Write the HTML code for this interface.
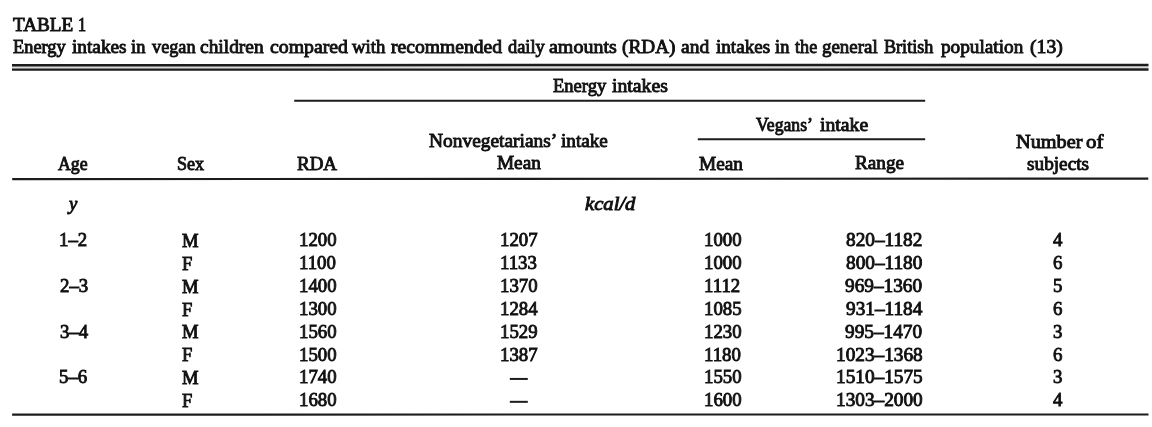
<!DOCTYPE html>
<html><head><meta charset="utf-8"><style>
html,body{margin:0;padding:0;background:#fff;}
body{width:1152px;height:427px;position:relative;overflow:hidden;filter:blur(0.45px);font-family:"Liberation Serif",serif;font-size:18px;line-height:18px;color:#111;}
.t{position:absolute;white-space:nowrap;transform-origin:0 0;-webkit-text-stroke:0.85px #111;}
.i{font-style:italic;}
.h{position:absolute;background:#151515;}
</style></head><body>
<svg width="1152" height="427" style="position:absolute;left:0;top:0">
<line x1="12" y1="67.3" x2="1148.5" y2="67.1" stroke="#dadada" stroke-width="3"/>
<line x1="12" y1="65.2" x2="1148.5" y2="64.95" stroke="#1c1c1c" stroke-width="2.5"/>
<line x1="12" y1="69.7" x2="1148.5" y2="69.5" stroke="#1c1c1c" stroke-width="2.3"/>
<line x1="294.2" y1="100.8" x2="925.2" y2="100.7" stroke="#1c1c1c" stroke-width="1.9"/>
<line x1="697.8" y1="139.3" x2="925.2" y2="139.2" stroke="#1c1c1c" stroke-width="1.9"/>
<line x1="12.2" y1="179.1" x2="1148.3" y2="178.6" stroke="#1c1c1c" stroke-width="2.1"/>
<line x1="12.1" y1="414.6" x2="1148.5" y2="414.5" stroke="#1c1c1c" stroke-width="2.1"/>
<line x1="509.8" y1="378.94" x2="527.8" y2="378.94" stroke="#1c1c1c" stroke-width="2"/>
<line x1="509.8" y1="401.83" x2="527.8" y2="401.83" stroke="#1c1c1c" stroke-width="2"/>
</svg>
<div class="t" style="left:12.96px;top:16.13px;transform:scaleX(1.0659)">TABLE</div>
<div class="t" style="left:78.48px;top:16.13px;transform:scaleX(0.9000)">1</div>
<div class="t" style="left:12.79px;top:37.83px;transform:scaleX(1.0211)">Energy</div>
<div class="t" style="left:71.61px;top:37.83px;transform:scaleX(1.0711)">intakes</div>
<div class="t" style="left:131.13px;top:37.83px;transform:scaleX(1.0251)">in</div>
<div class="t" style="left:152.00px;top:37.83px;transform:scaleX(1.0139)">vegan</div>
<div class="t" style="left:200.07px;top:37.83px;transform:scaleX(1.0801)">children</div>
<div class="t" style="left:269.56px;top:37.83px;transform:scaleX(1.0990)">compared</div>
<div class="t" style="left:352.40px;top:37.83px;transform:scaleX(1.0419)">with</div>
<div class="t" style="left:391.31px;top:37.83px;transform:scaleX(1.0889)">recommended</div>
<div class="t" style="left:507.96px;top:37.83px;transform:scaleX(1.0219)">daily</div>
<div class="t" style="left:549.20px;top:37.83px;transform:scaleX(1.1103)">amounts</div>
<div class="t" style="left:622.08px;top:37.83px;transform:scaleX(1.0688)">(RDA)</div>
<div class="t" style="left:680.52px;top:37.83px;transform:scaleX(1.0853)">and</div>
<div class="t" style="left:715.62px;top:37.83px;transform:scaleX(1.0611)">intakes</div>
<div class="t" style="left:774.93px;top:37.83px;transform:scaleX(1.0251)">in</div>
<div class="t" style="left:794.92px;top:37.83px;transform:scaleX(1.0097)">the</div>
<div class="t" style="left:822.20px;top:37.83px;transform:scaleX(1.0513)">general</div>
<div class="t" style="left:884.10px;top:37.83px;transform:scaleX(1.0065)">British</div>
<div class="t" style="left:940.51px;top:37.83px;transform:scaleX(1.0686)">population</div>
<div class="t" style="left:1029.96px;top:37.83px;transform:scaleX(1.0935)">(13)</div>
<div class="t" style="left:552.79px;top:77.33px;transform:scaleX(1.0290)">Energy</div>
<div class="t" style="left:611.51px;top:77.33px;transform:scaleX(1.0971)">intakes</div>
<div class="t" style="left:756.37px;top:116.03px;transform:scaleX(0.9818)">Vegans’</div>
<div class="t" style="left:820.11px;top:116.03px;transform:scaleX(1.0972)">intake</div>
<div class="t" style="left:429.07px;top:132.13px;transform:scaleX(1.0786)">Nonvegetarians’</div>
<div class="t" style="left:561.22px;top:132.13px;transform:scaleX(1.0646)">intake</div>
<div class="t" style="left:1015.94px;top:132.63px;transform:scaleX(1.1257)">Number</div>
<div class="t" style="left:1086.12px;top:132.63px;transform:scaleX(1.1600)">of</div>
<div class="t" style="left:57.62px;top:154.93px;transform:scaleX(0.9896)">Age</div>
<div class="t" style="left:176.58px;top:154.93px;transform:scaleX(1.0035)">Sex</div>
<div class="t" style="left:296.78px;top:154.93px;transform:scaleX(1.0536)">RDA</div>
<div class="t" style="left:496.77px;top:154.23px;transform:scaleX(1.0689)">Mean</div>
<div class="t" style="left:699.47px;top:154.53px;transform:scaleX(1.0713)">Mean</div>
<div class="t" style="left:855.37px;top:154.33px;transform:scaleX(1.0654)">Range</div>
<div class="t" style="left:1027.33px;top:154.63px;transform:scaleX(1.0705)">subjects</div>
<div class="t i" style="left:69.35px;top:195.23px;transform:scaleX(1.0427)">y</div>
<div class="t i" style="left:585.13px;top:194.53px;transform:scaleX(1.1467)">kcal/d</div>
<div class="t" style="left:58.80px;top:231.13px;transform:scaleX(1.0450)">1–2</div>
<div class="t" style="left:181.79px;top:231.83px;transform:scaleX(1.0300)">M</div>
<div class="t" style="left:299.35px;top:231.13px;transform:scaleX(1.0450)">1200</div>
<div class="t" style="left:499.90px;top:231.13px;transform:scaleX(1.0450)">1207</div>
<div class="t" style="left:703.70px;top:231.13px;transform:scaleX(1.0450)">1000</div>
<div class="t" style="left:846.44px;top:231.13px;transform:scaleX(1.0700)">820–1182</div>
<div class="t" style="left:1053.13px;top:231.13px;transform:scaleX(1.0450)">4</div>
<div class="t" style="left:181.79px;top:254.72px;transform:scaleX(1.0300)">F</div>
<div class="t" style="left:299.35px;top:254.02px;transform:scaleX(1.0450)">1100</div>
<div class="t" style="left:499.90px;top:254.02px;transform:scaleX(1.0450)">1133</div>
<div class="t" style="left:703.70px;top:254.02px;transform:scaleX(1.0450)">1000</div>
<div class="t" style="left:846.10px;top:254.02px;transform:scaleX(1.0700)">800–1180</div>
<div class="t" style="left:1053.05px;top:254.02px;transform:scaleX(1.0450)">6</div>
<div class="t" style="left:59.65px;top:276.91px;transform:scaleX(1.0450)">2–3</div>
<div class="t" style="left:181.79px;top:277.61px;transform:scaleX(1.0300)">M</div>
<div class="t" style="left:299.35px;top:276.91px;transform:scaleX(1.0450)">1400</div>
<div class="t" style="left:499.90px;top:276.91px;transform:scaleX(1.0450)">1370</div>
<div class="t" style="left:703.70px;top:276.91px;transform:scaleX(1.0450)">1112</div>
<div class="t" style="left:845.38px;top:276.91px;transform:scaleX(1.0700)">969–1360</div>
<div class="t" style="left:1052.98px;top:276.91px;transform:scaleX(1.0450)">5</div>
<div class="t" style="left:181.79px;top:300.50px;transform:scaleX(1.0300)">F</div>
<div class="t" style="left:299.35px;top:299.80px;transform:scaleX(1.0450)">1300</div>
<div class="t" style="left:499.90px;top:299.80px;transform:scaleX(1.0450)">1284</div>
<div class="t" style="left:703.70px;top:299.80px;transform:scaleX(1.0450)">1085</div>
<div class="t" style="left:845.67px;top:299.80px;transform:scaleX(1.0700)">931–1184</div>
<div class="t" style="left:1053.05px;top:299.80px;transform:scaleX(1.0450)">6</div>
<div class="t" style="left:59.56px;top:322.69px;transform:scaleX(1.0450)">3–4</div>
<div class="t" style="left:181.79px;top:323.39px;transform:scaleX(1.0300)">M</div>
<div class="t" style="left:299.35px;top:322.69px;transform:scaleX(1.0450)">1560</div>
<div class="t" style="left:499.90px;top:322.69px;transform:scaleX(1.0450)">1529</div>
<div class="t" style="left:703.70px;top:322.69px;transform:scaleX(1.0450)">1230</div>
<div class="t" style="left:845.38px;top:322.69px;transform:scaleX(1.0700)">995–1470</div>
<div class="t" style="left:1053.08px;top:322.69px;transform:scaleX(1.0450)">3</div>
<div class="t" style="left:181.79px;top:346.28px;transform:scaleX(1.0300)">F</div>
<div class="t" style="left:299.35px;top:345.58px;transform:scaleX(1.0450)">1500</div>
<div class="t" style="left:499.90px;top:345.58px;transform:scaleX(1.0450)">1387</div>
<div class="t" style="left:703.70px;top:345.58px;transform:scaleX(1.0450)">1180</div>
<div class="t" style="left:835.75px;top:345.58px;transform:scaleX(1.0700)">1023–1368</div>
<div class="t" style="left:1053.05px;top:345.58px;transform:scaleX(1.0450)">6</div>
<div class="t" style="left:59.37px;top:368.47px;transform:scaleX(1.0450)">5–6</div>
<div class="t" style="left:181.79px;top:369.17px;transform:scaleX(1.0300)">M</div>
<div class="t" style="left:299.35px;top:368.47px;transform:scaleX(1.0450)">1740</div>
<div class="t" style="left:703.70px;top:368.47px;transform:scaleX(1.0450)">1550</div>
<div class="t" style="left:835.75px;top:368.47px;transform:scaleX(1.0700)">1510–1575</div>
<div class="t" style="left:1053.08px;top:368.47px;transform:scaleX(1.0450)">3</div>
<div class="t" style="left:181.79px;top:392.06px;transform:scaleX(1.0300)">F</div>
<div class="t" style="left:299.35px;top:391.36px;transform:scaleX(1.0450)">1680</div>
<div class="t" style="left:703.70px;top:391.36px;transform:scaleX(1.0450)">1600</div>
<div class="t" style="left:835.75px;top:391.36px;transform:scaleX(1.0700)">1303–2000</div>
<div class="t" style="left:1053.13px;top:391.36px;transform:scaleX(1.0450)">4</div>
</body></html>
